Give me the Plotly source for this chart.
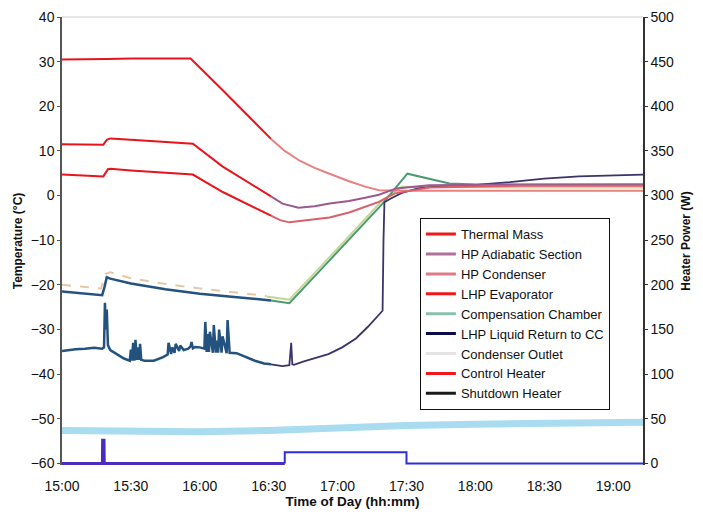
import plotly.graph_objects as go
import pandas as pd

BASE = pd.Timestamp("2000-01-01 15:00")

def tt(mins):
    return [BASE + pd.Timedelta(minutes=m) for m in mins]

# ---- Temperature series (minutes after 15:00, degC) ----
top_red_t = [0, 10, 20, 30, 40, 50, 56, 70, 80, 91]
top_red_v = [30.5, 30.5, 30.6, 30.7, 30.7, 30.7, 30.7, 23.6, 18.5, 12.7]
top_pink_t = [91, 97, 103.5, 110, 116.5, 125, 132, 138, 150, 170, 200, 253]
top_pink_v = [12.7, 10.0, 7.8, 6.2, 4.9, 3.2, 2.0, 1.2, 1.1, 1.1, 1.1, 1.1]

mid_red_t = [0, 10, 18, 19.5, 21, 30, 45, 57, 70, 80, 91]
mid_red_v = [11.5, 11.4, 11.4, 12.5, 12.8, 12.5, 12.0, 11.6, 6.5, 3.3, -0.2]
mid_purp_t = [91, 96, 103, 110, 116.5, 125, 132, 138, 145.6, 160, 200, 253]
mid_purp_v = [-0.2, -1.8, -2.7, -2.4, -1.8, -1.2, -0.5, 0.2, 1.6, 2.3, 2.5, 2.5]

low_red_t = [0, 10, 18, 20, 21, 30, 45, 57, 70, 80, 91]
low_red_v = [4.7, 4.5, 4.3, 5.9, 6.0, 5.6, 5.1, 4.7, 0.8, -1.8, -4.5]
low_pink_t = [91, 95, 99, 108, 116.5, 125, 132, 138, 145, 160, 200, 253]
low_pink_v = [-4.5, -5.5, -6.0, -5.5, -4.9, -3.8, -2.6, -1.4, 0.5, 1.8, 2.2, 2.2]

upblue_t = [0, 17.5, 18.5, 19.5, 21, 30, 45, 60, 75, 91]
upblue_v = [-21.5, -22.3, -20.5, -18.3, -18.6, -19.7, -21.0, -22.0, -22.7, -23.5]
green_t = [91, 99, 116.5, 139.6, 150.4, 160, 168.7, 180, 200, 253]
green_v = [-23.5, -24.1, -14.5, -1.8, 4.9, 3.8, 2.7, 2.5, 2.4, 2.5]

tan_t = [0, 17, 19, 21, 30, 45, 60, 75, 89]
tan_v = [-20.0, -20.8, -17.5, -17.2, -18.5, -19.8, -20.8, -21.7, -22.5]
ygreen_t = [89, 99, 116.5, 139.6, 148, 160, 200, 253]
ygreen_v = [-22.6, -23.3, -13.8, -1.0, 2.0, 1.9, 1.8, 1.8]

lowblue_t = [0, 3, 6, 10, 14, 17.5, 18.3, 18.7, 19.1, 19.5, 20, 21, 24, 27,
             29.5, 30, 30.4, 31, 31.5, 32, 32.5, 33, 33.5, 34, 34.5, 36, 40,
             44, 46, 46.4, 47.5, 48, 49, 49.5, 51, 51.5, 53, 55, 56, 56.4, 57,
             58, 60, 62, 62.4, 63, 63.4, 64, 64.4, 65.7, 66.1, 67, 67.4, 68,
             68.4, 69.5, 69.9, 71.7, 72.1, 73, 76, 80, 84, 88, 91]
lowblue_v = [-34.8, -34.6, -34.4, -34.3, -34.1, -34.3, -34.0, -24.0, -30.0,
             -25.5, -33.5, -34.6, -35.5, -36.5,
             -37.0, -34.5, -37.0, -33.0, -37.0, -32.3, -36.8, -34.0, -36.8,
             -33.2, -36.8, -37.0, -37.0,
             -36.2, -35.6, -33.0, -35.5, -34.0, -35.2, -33.2, -34.8, -33.6,
             -34.6, -34.3, -33.8, -32.8, -34.2,
             -33.9, -34.0, -34.3, -28.3, -35.0, -31.0, -35.0, -30.5, -35.2,
             -29.0, -35.2, -32.5, -35.2, -30.0, -35.2, -31.5, -35.3, -27.9,
             -35.2, -35.3, -36.2, -37.0, -37.6, -37.8]
navy_t = [91, 96, 99, 99.8, 100.3, 101, 105, 110, 116, 122, 128, 133, 138,
          139.6, 140, 140.4, 143, 148, 155, 165, 180, 195, 210, 225, 253]
navy_v = [-37.8, -38.2, -38.0, -33.0, -37.8, -37.9, -37.2, -36.5, -35.5,
          -34.0, -32.0, -29.5, -26.8, -25.8, -10.0, -1.5, -0.7, 0.6, 1.6,
          2.1, 2.4, 3.0, 3.8, 4.3, 4.7]

band_t = [0, 30, 60, 90, 120, 150, 180, 220, 253]
band_v = [-52.6, -52.9, -52.9, -52.6, -52.0, -51.5, -51.2, -51.0, -50.8]

# ---- Heater power (W) ----
heat1_t = [0, 17.6, 17.7, 18.3, 18.4, 97]
heat1_v = [0, 0, 26, 26, 0, 0]
heat2_t = [97, 97.01, 150, 150.01, 253]
heat2_v = [0, 12.5, 12.5, 0, 0]

legend_names = ["Thermal Mass", "HP Adiabatic Section", "HP Condenser",
                "LHP Evaporator", "Compensation Chamber",
                "LHP Liquid Return to CC", "Condenser Outlet",
                "Control Heater", "Shutdown Heater"]
legend_colors = ["#f01818", "#b0709c", "#dc7c88", "#f01818", "#88c0b0",
                 "#0c0c48", "#e4e4e4", "#f01818", "#1a1a1a"]

RED = "#e8141c"
DBLUE = "#24527f"

fig = go.Figure()

def add(t, v, color, width=2, dash=None, yaxis="y", opacity=1.0):
    fig.add_trace(go.Scatter(x=tt(t), y=v, mode="lines", yaxis=yaxis,
                             line=dict(color=color, width=width, dash=dash),
                             opacity=opacity, showlegend=False,
                             hoverinfo="skip"))

add(band_t, band_v, "#a9dcf0", width=7)
add(heat1_t, heat1_v, "#4a2cc0", width=3, yaxis="y2")
add(heat2_t, heat2_v, "#2e2ee0", width=2, yaxis="y2")
add(tan_t, tan_v, "#e2c8a6", width=2, dash="dash")
add(ygreen_t, ygreen_v, "#c4d896", width=2)
add(upblue_t, upblue_v, DBLUE, width=2.5)
add(green_t, green_v, "#4c9a70", width=2)
add(lowblue_t, lowblue_v, DBLUE, width=2.5)
add(navy_t, navy_v, "#3a3468", width=1.8)
add(top_pink_t, top_pink_v, "#e88080", width=2)
add(mid_purp_t, mid_purp_v, "#9a5a90", width=2)
add(low_pink_t, low_pink_v, "#d8606c", width=2)
add(top_red_t, top_red_v, RED, width=2)
add(mid_red_t, mid_red_v, RED, width=2)
add(low_red_t, low_red_v, RED, width=2)

for n, c in zip(legend_names, legend_colors):
    fig.add_trace(go.Scatter(x=[None], y=[None], mode="lines", name=n,
                             line=dict(color=c, width=3)))

fnt = "Arial, Liberation Sans, sans-serif"
fig.update_layout(
    width=703, height=514,
    margin=dict(l=62, r=60, t=17, b=49),
    paper_bgcolor="white", plot_bgcolor="white",
    font=dict(family=fnt, color="#111", size=13),
    xaxis=dict(type="date", automargin=False,
               range=[BASE, BASE + pd.Timedelta(minutes=253)],
               tickformat="%H:%M", dtick=30 * 60 * 1000,
               tick0=BASE, showgrid=False, zeroline=False,
               showline=False, ticks="outside", ticklen=8,
               tickcolor="rgba(0,0,0,0)",
               tickfont=dict(size=14, color="#111"),
               title=dict(text="<b>Time of Day (hh:mm)</b>",
                          font=dict(size=13.5), standoff=2)),
    yaxis=dict(range=[-60.35, 40], dtick=10, tick0=0, showgrid=False,
               automargin=False,
               zeroline=False, showline=True, linecolor="#555",
               linewidth=1.5, ticks="outside", ticklen=3,
               tickcolor="#555",
               tickfont=dict(size=14, color="#111"),
               title=dict(text="<b>Temperature (°C)</b>",
                          font=dict(size=12), standoff=6)),
    yaxis2=dict(range=[-1.7, 500], dtick=50, tick0=0, overlaying="y",
                side="right", showgrid=False, zeroline=False,
                automargin=False,
                showline=True, linecolor="#333", linewidth=1.5,
                ticks="outside", ticklen=3, tickcolor="#333",
                tickfont=dict(size=14, color="#111"),
                title=dict(text="<b>Heater Power (W)</b>",
                           font=dict(size=12), standoff=8)),
    legend=dict(x=0.616, y=0.551, xanchor="left", yanchor="top",
                bgcolor="white", bordercolor="#111", borderwidth=1,
                font=dict(size=13, color="#111"), itemwidth=30,
                tracegroupgap=0),
    shapes=[dict(type="line", xref="paper", yref="paper", x0=0, x1=1,
                 y0=1, y1=1, line=dict(color="#dddddd", width=1.5))],
)

fig.write_html("out.html")
